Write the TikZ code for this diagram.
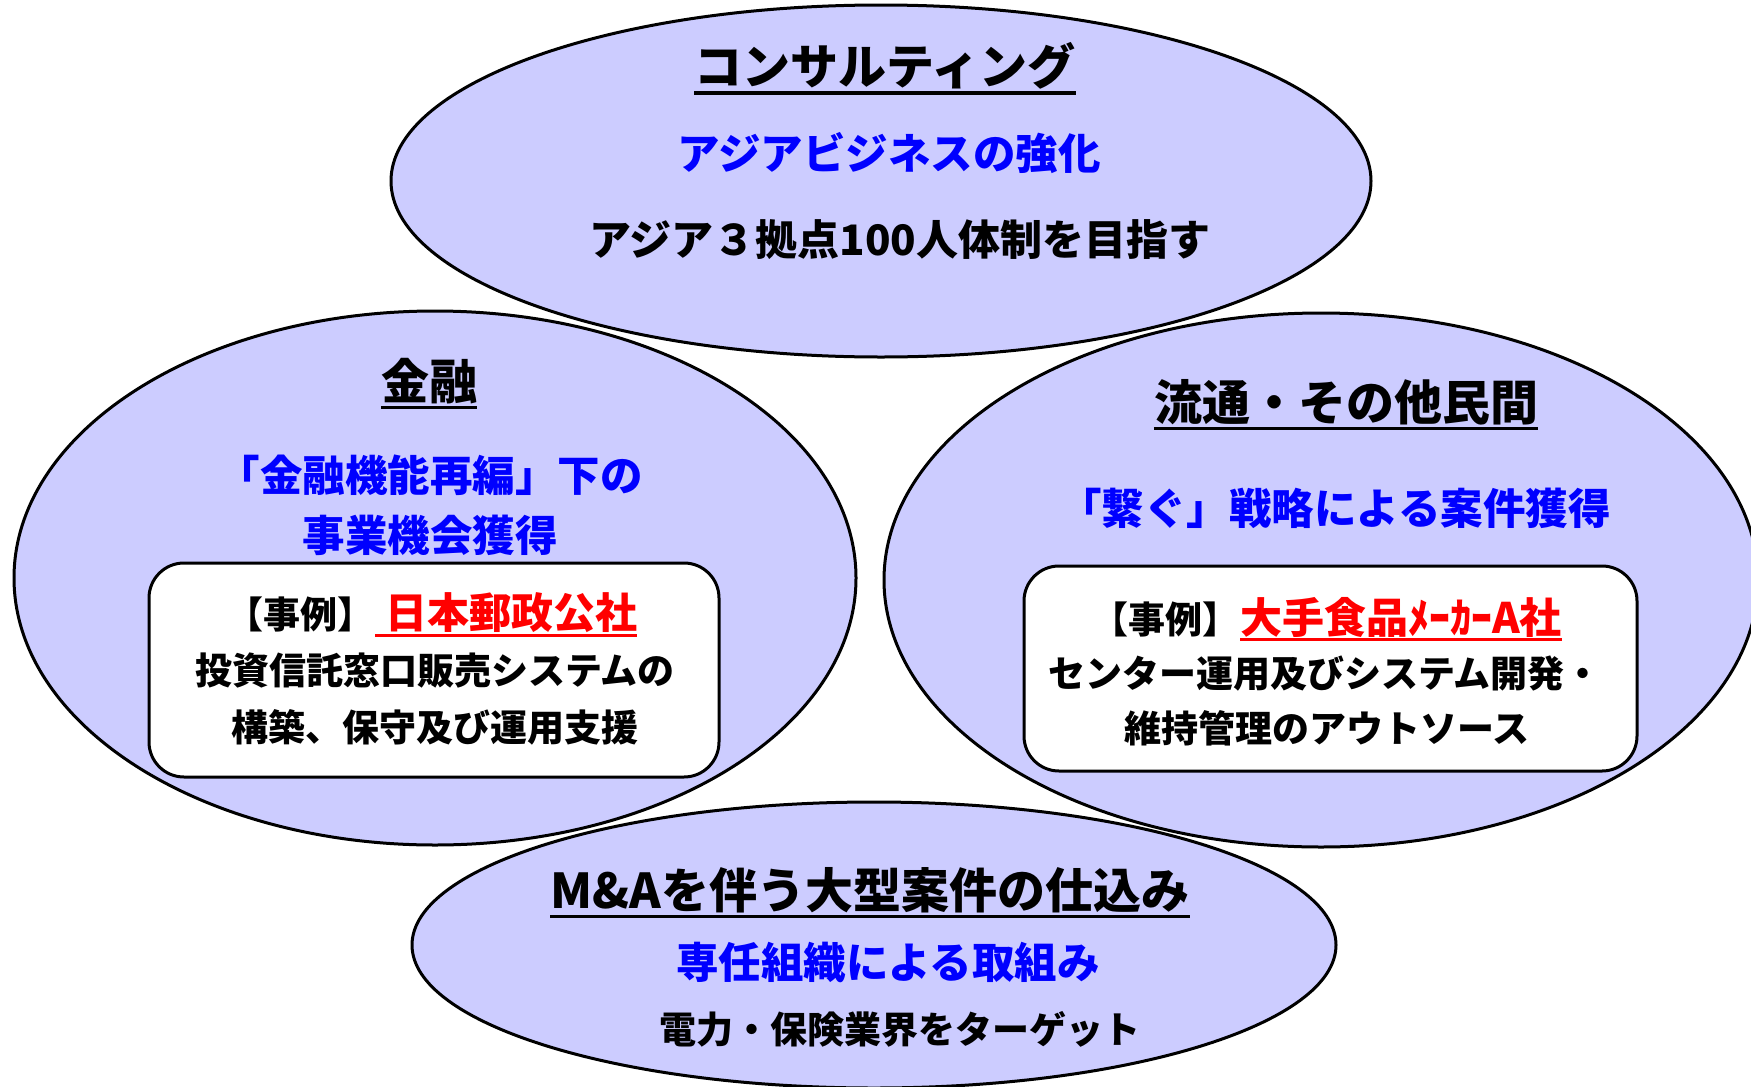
\documentclass[tikz,border=0pt]{standalone}
\usepackage{fontspec}
\setmainfont{Noto Sans CJK JP}
\definecolor{lav}{HTML}{CCCCFF}
\definecolor{tblue}{HTML}{0000FF}
\definecolor{tred}{HTML}{FF0000}
\begin{document}
\begin{tikzpicture}[x=1pt,y=-1pt,
  bub/.style={fill=lav,draw=black,line width=3pt},
  casebox/.style={fill=white,draw=black,line width=3pt,rounded corners=35pt},
  ttl/.style={inner sep=0pt,font=\bfseries\fontsize{48}{52}\selectfont},
  sub/.style={inner sep=0pt,text=tblue,font=\bfseries\fontsize{42.5}{46}\selectfont},
  big/.style={inner sep=0pt,font=\bfseries\fontsize{42}{46}\selectfont},
  txt/.style={inner sep=0pt,font=\bfseries\fontsize{37}{42}\selectfont},
  redtx/.style={inner sep=0pt,text=tred,font=\bfseries\fontsize{42}{46}\selectfont},
  ulne/.style={line width=3.5pt},
  ulred/.style={line width=3pt,draw=tred}
]
\clip (0,0) rectangle (1751,1087);
\fill[white] (0,0) rectangle (1751,1087);

% bubbles
\path[bub] (881,181) ellipse [x radius=490, y radius=176];
\path[bub] (435,578) ellipse [x radius=421, y radius=267];
\path[bub] (1321,580) ellipse [x radius=437, y radius=267];
\path[bub] (874,945) ellipse [x radius=462, y radius=143];

% case boxes
\path[casebox] (149,563) rectangle (719,777);
\path[casebox] (1024,566) rectangle (1637,771);

% top bubble
\node[ttl] (t1) at (885,66) {コンサルティング};
\draw[ulne] ([yshift=-3.5pt]t1.south west) -- ([yshift=-3.5pt]t1.south east);
\node[sub] (t1b) at (889,153) {アジアビジネスの強化};
\node[big] (t1c) at (900,240) {アジア３拠点100人体制を目指す};

% left bubble
\node[ttl] (t2) at (429,381) {金融};
\draw[ulne] ([yshift=-3.5pt]t2.south west) -- ([yshift=-3.5pt]t2.south east);
\node[sub] (t2b) at (430,475) {「金融機能再編」下の};
\node[sub] (t2c) at (430,535) {事業機会獲得};
\node[redtx,anchor=west] (r1) at (375,612.5) {\kern10pt 日本郵政公社};
\node[txt,anchor=base east] (e1) at (r1.base west) {【事例】};
\draw[ulred] ([yshift=-2.5pt]r1.south west) -- ([yshift=-2.5pt]r1.south east);
\node[txt] (l1) at (435,671) {投資信託窓口販売システムの};
\node[txt] (l2) at (435,727) {構築、保守及び運用支援};

% right bubble
\node[ttl] (t3) at (1346,402) {流通・その他民間};
\draw[ulne] ([yshift=-3.5pt]t3.south west) -- ([yshift=-3.5pt]t3.south east);
\node[sub] (t3b) at (1335,508) {「繋ぐ」戦略による案件獲得};
\node[redtx,anchor=west] (r2) at (1240,617) {大手食品ﾒｰｶｰA社};
\node[txt,anchor=base east] (e2) at (r2.base west) {【事例】};
\draw[ulred] ([yshift=-2.5pt]r2.south west) -- ([yshift=-2.5pt]r2.south east);
\node[txt] (m1) at (1325,674) {センター運用及びシステム開発・};
\node[txt] (m2) at (1327,728) {維持管理のアウトソース};

% bottom bubble
\node[ttl] (t4) at (870,890) {M\&Aを伴う大型案件の仕込み};
\draw[ulne] ([yshift=-3.5pt]t4.south west) -- ([yshift=-3.5pt]t4.south east);
\node[sub] (t4b) at (888,962) {専任組織による取組み};
\node[txt] (t4c) at (900,1029) {電力・保険業界をターゲット};
\end{tikzpicture}
\end{document}
